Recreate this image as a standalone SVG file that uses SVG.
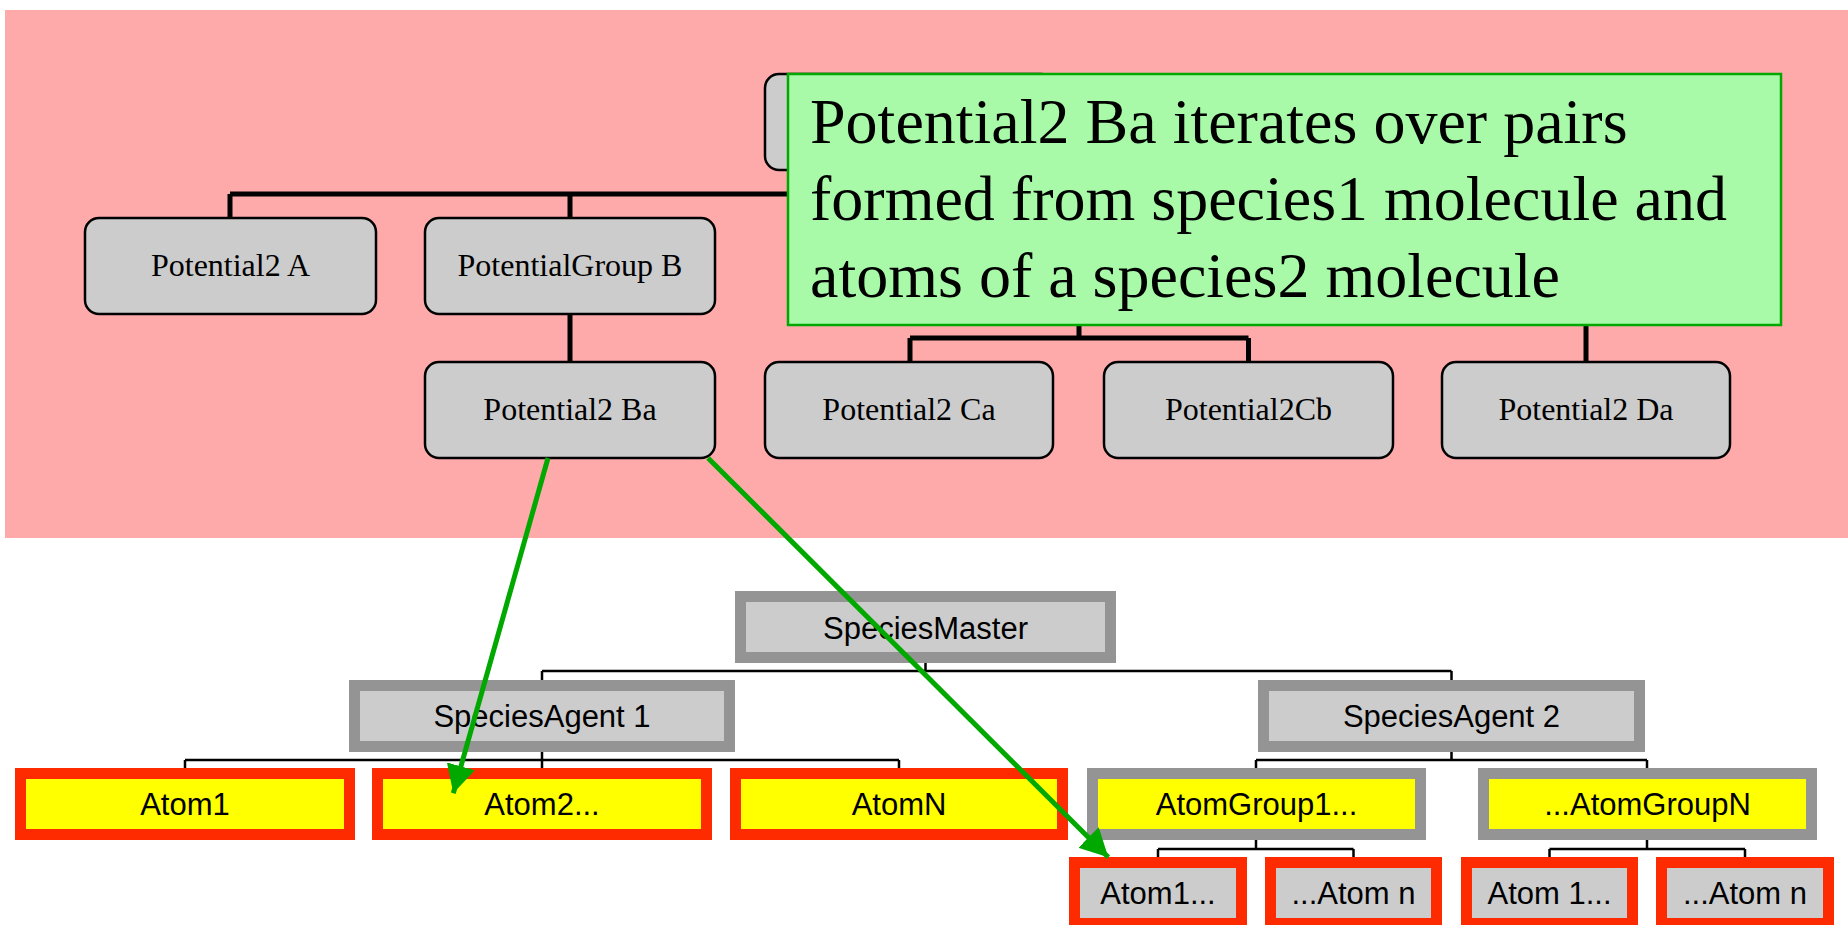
<svg xmlns="http://www.w3.org/2000/svg" width="1848" height="925" viewBox="0 0 1848 925">
<style>
.tn rect{fill:#CCCCCC;stroke:#000;stroke-width:2.5}
.tn text{font-family:"Liberation Serif","Times New Roman",serif;font-size:32px;fill:#000;text-anchor:middle}
.bn text{font-family:"Liberation Sans",Arial,sans-serif;font-size:31px;fill:#000;text-anchor:middle}
.gy rect{fill:#CCCCCC;stroke:#949494;stroke-width:11}
.gyy rect{fill:#FFFF00;stroke:#949494;stroke-width:11}
.ry rect{fill:#FFFF00;stroke:#FF2B00;stroke-width:11}
.rg rect{fill:#CCCCCC;stroke:#FF2B00;stroke-width:11}
.tc{fill:none;stroke:#000;stroke-width:5}
.bc{fill:none;stroke:#000;stroke-width:2.5}
.ga{fill:none;stroke:#00A800;stroke-width:5;marker-end:url(#gh)}
.note rect{fill:#A8FAA8;stroke:#00A800;stroke-width:2.5}
.note text{font-family:"Liberation Serif","Times New Roman",serif;font-size:64px;fill:#000}
</style>
<defs>
<marker id="gh" viewBox="0 0 28 29" refX="28" refY="14.5" markerWidth="28" markerHeight="29" markerUnits="userSpaceOnUse" orient="auto">
<path d="M0,0 L28,14.5 L0,29 z" fill="#00A800"/>
</marker>
</defs>
<rect x="0" y="0" width="1848" height="925" fill="#FFFFFF"/>
<rect id="background" x="5" y="10" width="1843" height="528" fill="#FFAAAA"/>

<g id="top-connectors">
<path class="tc" d="M910,170 V194 M230,194 H1586 M230,194 V218 M570,194 V218 M1079,194 V218 M1586,194 V362 M570,314 V362 M1079,314 V338 M910,338 H1248.5 M910,338 V362 M1248.5,338 V362"/>
</g>

<g id="node-root" class="tn"><rect x="765" y="74" width="290" height="96" rx="14"/></g>
<g id="node-potential2-a" class="tn"><rect x="85" y="218" width="291" height="96" rx="14"/><text x="230.5" y="276">Potential2 A</text></g>
<g id="node-potentialgroup-b" class="tn"><rect x="425" y="218" width="290" height="96" rx="14"/><text x="570" y="276">PotentialGroup B</text></g>
<g id="node-potential2-ba" class="tn"><rect x="425" y="362" width="290" height="96" rx="14"/><text x="570" y="420">Potential2 Ba</text></g>
<g id="node-potential2-ca" class="tn"><rect x="765" y="362" width="288" height="96" rx="14"/><text x="909" y="420">Potential2 Ca</text></g>
<g id="node-potential2cb" class="tn"><rect x="1104" y="362" width="289" height="96" rx="14"/><text x="1248.5" y="420">Potential2Cb</text></g>
<g id="node-potential2-da" class="tn"><rect x="1442" y="362" width="288" height="96" rx="14"/><text x="1586" y="420">Potential2 Da</text></g>

<g id="note" class="note">
<rect x="788" y="74" width="993" height="251"/>
<text x="810" y="143">Potential2 Ba iterates over pairs</text>
<text x="810" y="220">formed from species1 molecule and</text>
<text x="810" y="297">atoms of a species2 molecule</text>
</g>

<g id="bottom-connectors">
<path class="bc" d="M925.5,663 V671 M542,671 H1451.5 M542,671 V680 M1451.5,671 V680 M542,752 V760 M185,760 H899 M185,760 V768 M899,760 V768 M542,760 V768 M1451.5,752 V760 M1256,760 H1647 M1256,760 V768 M1647,760 V768 M1256,840 V849 M1158,849 H1353.5 M1158,849 V857 M1353.5,849 V857 M1647,840 V849 M1549.5,849 H1745 M1549.5,849 V857 M1745,849 V857"/>
</g>

<g id="node-speciesmaster" class="bn gy"><rect x="740.5" y="596.5" width="370" height="61"/><text x="925.5" y="638.5">SpeciesMaster</text></g>
<g id="node-speciesagent-1" class="bn gy"><rect x="354.5" y="685.5" width="375" height="61"/><text x="542" y="727">SpeciesAgent 1</text></g>
<g id="node-speciesagent-2" class="bn gy"><rect x="1263.5" y="685.5" width="376" height="61"/><text x="1451.5" y="727">SpeciesAgent 2</text></g>
<g id="node-atom1" class="bn ry"><rect x="20.5" y="773.5" width="329" height="61"/><text x="185" y="814.5">Atom1</text></g>
<g id="node-atom2" class="bn ry"><rect x="377.5" y="773.5" width="329" height="61"/><text x="542" y="814.5">Atom2...</text></g>
<g id="node-atomn" class="bn ry"><rect x="735.5" y="773.5" width="327" height="61"/><text x="899" y="814.5">AtomN</text></g>
<g id="node-atomgroup1" class="bn gyy"><rect x="1092.5" y="773.5" width="328" height="61"/><text x="1256.5" y="814.5">AtomGroup1...</text></g>
<g id="node-atomgroupn" class="bn gyy"><rect x="1483.5" y="773.5" width="328" height="61"/><text x="1647.5" y="814.5">...AtomGroupN</text></g>
<g id="node-g1-atom1" class="bn rg"><rect x="1074.5" y="862.5" width="167" height="61"/><text x="1158" y="904">Atom1...</text></g>
<g id="node-g1-atomn" class="bn rg"><rect x="1270.5" y="862.5" width="166" height="61"/><text x="1353.5" y="904">...Atom n</text></g>
<g id="node-gn-atom1" class="bn rg"><rect x="1466.5" y="862.5" width="166" height="61"/><text x="1549.5" y="904">Atom 1...</text></g>
<g id="node-gn-atomn" class="bn rg"><rect x="1661.5" y="862.5" width="167" height="61"/><text x="1745" y="904">...Atom n</text></g>

<g id="green-arrows">
<line class="ga" x1="548" y1="458" x2="453.3" y2="793.3"/>
<line class="ga" x1="708" y1="458" x2="1108.3" y2="857.3"/>
</g>
</svg>
